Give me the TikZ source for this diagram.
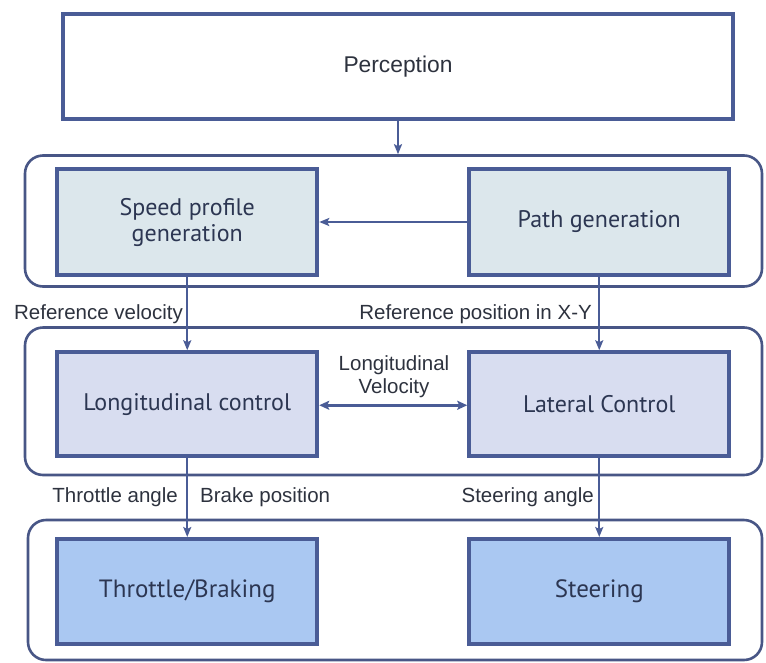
\documentclass[tikz,border=0pt]{standalone}
\usepackage{fontspec}
\setmainfont{Liberation Sans}
\newfontfamily\boxfont{PT Sans}
\usetikzlibrary{arrows.meta}

\definecolor{edgeblue}{RGB}{74,92,150}
\definecolor{groupline}{RGB}{72,86,134}
\definecolor{planfill}{RGB}{220,231,236}
\definecolor{ctrlfill}{RGB}{216,221,240}
\definecolor{actfill}{RGB}{170,200,242}
\definecolor{labeltext}{RGB}{45,50,62}
\definecolor{boxtext}{RGB}{44,54,82}

\tikzset{
  block/.style={draw=edgeblue, line width=4pt, rectangle, inner sep=0pt,
    text=boxtext, align=center},
  planbox/.style={block, fill=planfill, minimum width=260pt, minimum height=106pt,
    font=\boxfont\fontsize{24}{26}\selectfont},
  ctrlbox/.style={block, fill=ctrlfill, minimum width=260pt, minimum height=104pt,
    font=\boxfont\fontsize{24}{26}\selectfont},
  actbox/.style={block, fill=actfill, minimum width=260pt, minimum height=105pt,
    font=\boxfont\fontsize{25}{28}\selectfont},
  groupbox/.style={draw=groupline, line width=2.6pt, rounded corners=18pt,
    rectangle, inner sep=0pt},
  arr/.style={draw=edgeblue, line width=2.2pt,
    -{Stealth[length=10pt,width=8pt,inset=2pt]}},
  darr/.style={draw=edgeblue, line width=3pt,
    {Stealth[length=10pt,width=9pt,inset=2pt]}-{Stealth[length=10pt,width=9pt,inset=2pt]}},
  lbl/.style={text=labeltext, inner sep=0pt, font=\fontsize{20.5}{23}\selectfont}
}

\begin{document}
\begin{tikzpicture}[x=1pt,y=-1pt]
\useasboundingbox (0,0) rectangle (766,662);

% layer groups
\node[groupbox, minimum width=737pt, minimum height=131pt] (grp1) at (393.5,221) {};
\node[groupbox, minimum width=737pt, minimum height=147.5pt] (grp2) at (393.5,401.25) {};
\node[groupbox, minimum width=734pt, minimum height=140pt] (grp3) at (395,590) {};

% perception
\node[block, fill=white, minimum width=670pt, minimum height=105pt,
  text=labeltext, font=\fontsize{22.8}{26}\selectfont] (percep) at (398,66.5) {Perception};

% planning layer
\node[planbox] (speed) at (187.25,222) {Speed profile\\generation};
\node[planbox] (path) at (599.25,222) {Path generation};

% control layer
\node[ctrlbox] (long) at (187.25,404.25) {Longitudinal control};
\node[ctrlbox] (lat) at (599.25,404.25) {Lateral Control};

% actuator layer
\node[actbox] (thr) at (187.25,591.5) {Throttle/Braking};
\node[actbox] (steer) at (599.25,591.5) {Steering};

% connectors
\draw[arr] (percep.south) -- (percep.south |- grp1.north);
\draw[arr] (path.west) -- (speed.east);
\draw[arr] (speed.south) -- (long.north);
\draw[arr] (path.south) -- (lat.north);
\path (long.east) ++(0,1) coordinate (dl) (lat.west) ++(0,1) coordinate (dr);
\draw[darr] (dl) -- (dr);
\draw[arr] (long.south) -- (thr.north);
\draw[arr] (lat.south) -- (steer.north);

% signal labels
\node[lbl, anchor=base east] (refvel) at (183,319) {Reference velocity};
\node[lbl, anchor=base east] (refpos) at (592,319) {Reference position in X-Y};
\node[lbl, align=center, anchor=base] (longvel) at (394,393) {Longitudinal\\Velocity};
\node[lbl, anchor=base east] (thrang) at (178,502) {Throttle angle};
\node[lbl, anchor=base west] (brkpos) at (200,502) {Brake position};
\node[lbl, anchor=base east] (steerang) at (594,502) {Steering angle};
\end{tikzpicture}
\end{document}
